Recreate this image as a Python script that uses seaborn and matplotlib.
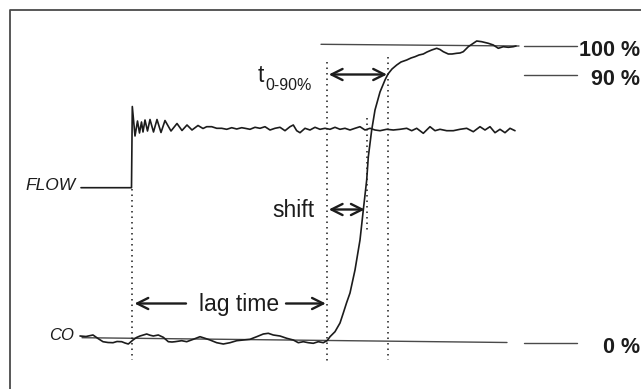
import matplotlib
matplotlib.use("Agg")
import matplotlib.pyplot as plt
import seaborn as sns
import pandas as pd

# ---------------- data (time axis in schematic units, signal in schematic units; y grows downward) -------------
flow_time = [81, 131.5, 132.3, 135, 137.5, 139.5, 141.5, 143, 145, 147.5,
             150, 153.5, 157, 161, 165, 171, 177, 182, 187, 192,
             198, 203, 206.7, 211.7, 216.7,
             221.7, 226.7, 231.7, 236.7, 241.7, 245, 250, 255, 260, 265,
             270, 275, 280, 285, 290, 293.3, 296.7, 300, 305, 310,
             315, 320, 325, 330, 335, 340, 345, 350, 355, 360,
             365, 370, 375, 380, 386.7, 393.3, 400, 406.7, 411.7, 416.7,
             423.3, 430, 435, 440, 446.7, 453.3, 460, 466.7, 473.3, 480,
             485, 490, 495, 500, 505, 510, 515]
flow_level = [187.7, 187.7, 106.5, 136, 121, 133, 122, 132, 120, 131,
              119.5, 132, 119.5, 132.5, 120.5, 131, 123.5, 130.5, 125, 130,
              125.5, 128.5, 126.7, 126.7, 128.3,
              128.3, 129.3, 127.7, 129, 127.7, 128.3, 129.3, 127.3, 128.3, 126.7,
              130, 128.3, 127.3, 130.7, 126.7, 125, 130.7, 132.7, 128.3, 130,
              127.3, 129.3, 128.3, 129.3, 127.3, 129.3, 128.3, 130, 128.3, 126.7,
              130, 128.3, 130, 130.7, 129.3, 130, 129.3, 128.3, 130.7, 128.3,
              133.3, 126.7, 130.7, 129.3, 130.7, 130.7, 129.3, 128.3, 131.7, 126.7,
              130, 126.7, 132.7, 129.3, 132.7, 128.3, 130.7]

co_time = [80, 86, 93, 98, 103, 108, 113, 117, 121.7, 125,
           128.3, 133, 136.5, 140, 146.7, 150, 153.3, 158.3, 163.3, 168.3,
           172, 175, 181.7, 186.7, 193.3, 200, 205, 210, 216.7, 223.3,
           230, 236.7, 243.3, 250, 256.7, 263.3, 268.3, 273.3, 280, 286.7,
           293.3, 298.3, 303.3, 308.3, 313.3, 318.3, 323.3, 327.3, 330, 335,
           340, 343.3, 346.5, 350, 355, 360, 363.3, 366.7, 368.3, 371.7,
           375, 380, 385, 388, 392, 396.7, 401, 406.7, 411, 415,
           419, 423.3, 427, 431.7, 436.7, 440, 443.3, 448.3, 452, 456.7,
           460, 463.3, 468.3, 473.3, 476.7, 481.7, 485, 488.3, 493.3, 498.3,
           503.3, 508.3, 513.3, 516]
co_level = [336, 336.5, 335, 338.5, 341.7, 342.5, 342.7, 341.5, 341.7, 343,
            344, 340, 337.5, 336, 334, 335.2, 336, 335, 337.3, 341.7,
            342, 341.7, 340.7, 341.7, 339.3, 336.7, 338.3, 340, 342.7, 344,
            342.7, 340.7, 340, 339.3, 336.7, 334, 333.3, 335, 336, 338.3,
            340, 342.7, 341.7, 342.7, 343.3, 341.7, 342.7, 340.5, 336.7, 331.7,
            323, 313, 303, 293, 270, 240, 210, 180, 157, 130,
            110, 92, 80, 74, 69, 65, 62, 60, 58, 56.7,
            55, 54, 52, 50, 48.3, 49.5, 51.7, 54, 54, 53.3,
            53, 51.7, 46.7, 43.3, 41, 41.7, 42.5, 43.3, 45, 48.3,
            46.7, 47.3, 46.7, 46]

# reference (0 % and 100 %) lines: start/end time and level
ref0_time = [82, 507]
ref0_level = [337.7, 342.5]
ref100_time = [321, 519]
ref100_level = [44.3, 46]

# level markers at the right
level_labels = ["100 %", "90 %", "0 %"]
level_marker_y = [45.7, 75.3, 342.6]
level_text_y = [56, 85, 352.7]

# characteristic times
t_step = 131.5      # flow step
t_co0 = 327.3       # start of CO rise
t_shift = 366.7     # shift mark
t_90 = 388          # 90 % reached

# ---------------- drawing ----------------
sns.set_style("white")
plt.rcParams['font.family'] = ['Liberation Sans', 'DejaVu Sans']

fig = plt.figure(figsize=(6.41, 3.89), dpi=100)
ax = fig.add_axes([0, 0, 1, 1])
ax.set_xlim(0, 641)
ax.set_ylim(389, 0)
ax.axis('off')

ink = '#1c1c1c'
grey = '#4a4a4a'

# frame
ax.plot([9.5, 9.5, 641], [389, 9.5, 9.5], color=grey, lw=1.3, solid_capstyle='butt')

# reference lines
sns.lineplot(x=ref0_time, y=ref0_level, ax=ax, color=grey, lw=1.0, sort=False, estimator=None, legend=False)
sns.lineplot(x=ref100_time, y=ref100_level, ax=ax, color=grey, lw=1.0, sort=False, estimator=None, legend=False)

# signals
flow_df = pd.DataFrame({"time": flow_time, "level": flow_level})
co_df = pd.DataFrame({"time": co_time, "level": co_level})
sns.lineplot(data=flow_df, x="time", y="level", ax=ax, color=ink, lw=1.2, sort=False, estimator=None, legend=False)
sns.lineplot(data=co_df, x="time", y="level", ax=ax, color=ink, lw=1.2, sort=False, estimator=None, legend=False)

# dotted guide lines
dot = dict(color=ink, lw=1.1, linestyle=(0, (1, 2.6)))
ax.plot([t_step, t_step], [189, 360], **dot)
ax.plot([t_co0, t_co0], [62, 363], **dot)
ax.plot([t_90, t_90], [57, 360], **dot)
ax.plot([t_shift, t_shift], [118, 233], **dot)

# right level markers
for lab, my, ty in zip(level_labels, level_marker_y, level_text_y):
    ax.plot([523.5, 577], [my, my], color=grey, lw=1.0)
    ax.text(640, ty, lab, ha='right', va='baseline', fontsize=15.5, fontweight='bold', color=ink)

# arrows
def arrow(x0, x1, y, style):
    ax.annotate('', xy=(x1, y), xytext=(x0, y),
                arrowprops=dict(arrowstyle=style + ',head_length=0.5,head_width=0.25',
                                lw=1.7, color=ink, shrinkA=0, shrinkB=0, mutation_scale=16))

arrow(t_co0 + 1.5, t_90 - 1, 74.5, '<->')
arrow(t_co0 + 1.5, t_shift - 2, 209.5, '<->')
arrow(186, t_step + 3, 303.5, '->')
arrow(286, t_co0 - 1.5, 303.5, '->')

# texts
ax.text(75.5, 190, 'FLOW', ha='right', va='baseline', fontsize=12.5, fontstyle='italic', color=ink)
ax.text(73.5, 340, 'CO', ha='right', va='baseline', fontsize=12, fontstyle='italic', color=ink)
ax.text(239, 311.5, 'lag time', ha='center', va='baseline', fontsize=16.5, color=ink)
ax.text(314, 216.7, 'shift', ha='right', va='baseline', fontsize=16.5, color=ink)
ax.text(257.5, 82, 't', ha='left', va='baseline', fontsize=16.5, color=ink)
ax.text(265, 90, '0-90%', ha='left', va='baseline', fontsize=11.5, color=ink)

fig.savefig('out.png', dpi=100, facecolor='white')
